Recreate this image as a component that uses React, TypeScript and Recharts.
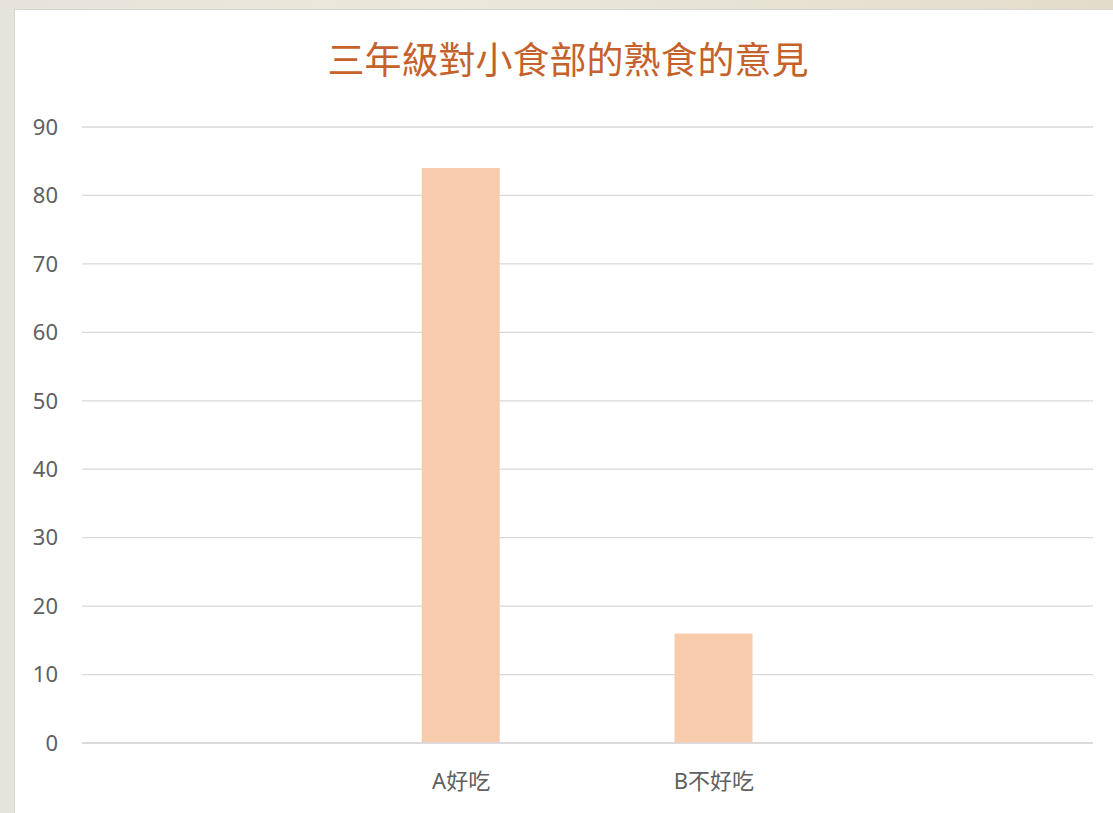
import { BarChart, Bar, XAxis, YAxis, CartesianGrid } from "recharts";

// 三年級對小食部的熟食的意見
const categories = ["", "A好吃", "B不好吃", ""];
const votes: (number | null)[] = [null, 84, 16, null];
const yTicks = [0, 10, 20, 30, 40, 50, 60, 70, 80, 90];

const data = categories.map((name, i) => ({ name, votes: votes[i] }));

const font = '"Noto Sans", "Noto Sans CJK TC", sans-serif';

export default function App() {
  return (
    <div
      style={{
        position: "absolute",
        left: 0,
        top: 0,
        width: 1113,
        height: 813,
        overflow: "hidden",
        background: "linear-gradient(90deg, #e6e3dc 0%, #ebe8da 40%, #e3dccb 100%)",
        fontFamily: font,
      }}
    >
      <div
        style={{
          position: "absolute",
          left: 14,
          top: 9,
          width: 1113,
          height: 820,
          background: "#ffffff",
          borderLeft: "1px solid #d6d6d6",
          borderTop: "1px solid #d6d6d6",
        }}
      />
      <div
        style={{
          position: "absolute",
          left: 0,
          top: 41,
          width: 1136,
          textAlign: "center",
          fontSize: 37,
          lineHeight: 1,
          color: "#c5622b",
          fontFamily: font,
        }}
      >
        三年級對小食部的熟食的意見
      </div>
      <div style={{ position: "absolute", left: 0, top: 0 }}>
        <BarChart
          width={1113}
          height={813}
          data={data}
          margin={{ top: 127, right: 20, bottom: 20, left: 0 }}
        >
          <CartesianGrid vertical={false} stroke="#d9d9d9" strokeWidth={1.3} />
          <XAxis
            dataKey="name"
            height={50}
            axisLine={{ stroke: "#d9d9d9", strokeWidth: 1.3 }}
            tickLine={false}
            tickMargin={24}
            tick={{ fill: "#606060", fontSize: 22, fontFamily: font }}
          />
          <YAxis
            width={82}
            domain={[0, 90]}
            ticks={yTicks}
            axisLine={false}
            tickLine={false}
            tickMargin={18}
            tick={{ fill: "#606060", fontSize: 22, fontFamily: font }}
          />
          <Bar dataKey="votes" fill="#f7cbac" barSize={78} isAnimationActive={false} />
        </BarChart>
      </div>
    </div>
  );
}
